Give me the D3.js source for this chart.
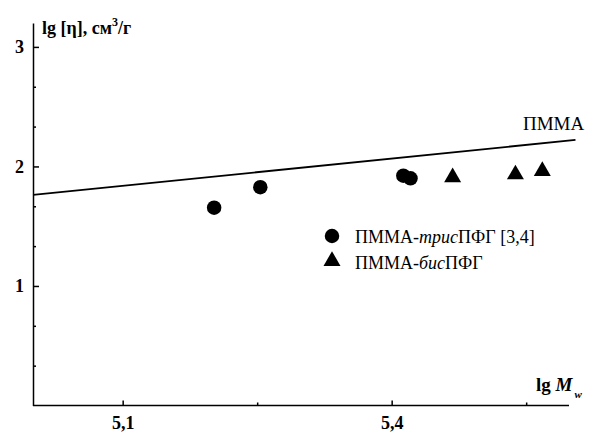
<!DOCTYPE html>
<html>
<head>
<meta charset="utf-8">
<script src="https://cdn.jsdelivr.net/npm/d3@7"></script>
<style>
  body { margin: 0; background: #fff; }
  svg, svg text { font-family: 'Liberation Serif', 'Tinos', 'Times New Roman', 'DejaVu Serif', serif; }
</style>
</head>
<body>
<div id="chart"></div>
<script>
// data
const trisX = [5.202, 5.2535, 5.413, 5.421];
const trisY = [1.655, 1.826, 1.923, 1.901];
const bisX = [5.468, 5.538, 5.568];
const bisY = [1.909, 1.933, 1.961];
const pmmaX = [5.0, 5.605];
const pmmaY = [1.762, 2.222];
const xMajor = [5.1, 5.4];
const xMinor = [5.25, 5.55];
const yMajor = [1, 2, 3];
const yMinor = [1/3, 2/3, 4/3, 5/3, 7/3, 8/3];
const legendNames = ["трис", "бис"];

const width = 595, height = 432;
const svg = d3.select("#chart").append("svg")
  .attr("width", width)
  .attr("height", height);

const x = d3.scaleLinear().domain([5.0, 5.6]).range([33, 571]);
const y = d3.scaleLinear().domain([0, 3.2]).range([405.5, 23]);

// axes
const xAxis = svg.append("g")
  .attr("transform", `translate(0, ${y(0)})`)
  .call(d3.axisBottom(x).tickValues(xMajor).tickSize(-5).tickPadding(11)
    .tickFormat(d => d3.format(".1f")(d).replace(".", ",")).tickSizeOuter(0));
svg.append("g")
  .attr("transform", `translate(0, ${y(0)})`)
  .call(d3.axisBottom(x).tickValues(xMinor).tickSize(-3).tickFormat("").tickSizeOuter(0))
  .select(".domain").remove();
xAxis.select(".domain").attr("d", `M${x(5.0)},0H569`);

const yAxis = svg.append("g")
  .attr("transform", `translate(${x(5.0)}, 0)`)
  .call(d3.axisLeft(y).tickValues(yMajor).tickSize(-6).tickPadding(9)
    .tickFormat(d3.format("d")).tickSizeOuter(0));
svg.append("g")
  .attr("transform", `translate(${x(5.0)}, 0)`)
  .call(d3.axisLeft(y).tickValues(yMinor).tickSize(-3).tickFormat("").tickSizeOuter(0))
  .select(".domain").remove();

svg.selectAll(".domain, .tick line").attr("stroke", "#000").attr("stroke-width", 1.5);
svg.selectAll(".tick text")
  .attr("font-size", 18).attr("font-weight", "bold")
  .attr("font-family", null);

// axis titles
const yTitle = svg.append("text")
  .attr("x", 42).attr("y", 34)
  .attr("font-size", 18).attr("font-weight", "bold");
yTitle.append("tspan").text("lg [η], см");
yTitle.append("tspan").attr("dy", -8).attr("font-size", 12).text("3");
yTitle.append("tspan").attr("dy", 8).text("/г");

const xTitle = svg.append("text")
  .attr("x", 536).attr("y", 391)
  .attr("font-size", 19).attr("font-weight", "bold");
xTitle.append("tspan").text("lg ");
xTitle.append("tspan").attr("font-style", "italic").text("M");
xTitle.append("tspan").attr("dx", 2).attr("dy", 7).attr("font-size", 11).attr("font-style", "italic").text("w");

// ПММА line
const line = d3.line().x(d => x(d[0])).y(d => y(d[1]));
svg.append("path")
  .datum(d3.zip(pmmaX, pmmaY))
  .attr("d", line)
  .attr("fill", "none")
  .attr("stroke", "#000")
  .attr("stroke-width", 1.8);
svg.append("text")
  .attr("x", 523).attr("y", 130)
  .attr("font-size", 19)
  .text("ПММА");

// points
const circle = d3.symbol().type(d3.symbolCircle).size(165);
const tri = d3.symbol().type(d3.symbolTriangle).size(125);

svg.selectAll(".tris")
  .data(d3.zip(trisX, trisY))
  .join("path")
    .attr("class", "tris")
    .attr("d", circle)
    .attr("transform", d => `translate(${x(d[0])}, ${y(d[1])})`)
    .attr("fill", "#000");

svg.selectAll(".bis")
  .data(d3.zip(bisX, bisY))
  .join("path")
    .attr("class", "bis")
    .attr("d", tri)
    .attr("transform", d => `translate(${x(d[0])}, ${y(d[1])})`)
    .attr("fill", "#000");

// legend
const legend = svg.append("g").attr("transform", "translate(332, 236)");
legend.append("path").attr("d", circle).attr("fill", "#000");
legend.append("path").attr("d", tri).attr("transform", "translate(0, 25)").attr("fill", "#000");

const l1 = legend.append("text").attr("x", 23).attr("y", 7).attr("font-size", 18);
l1.append("tspan").text("ПММА-");
l1.append("tspan").attr("font-style", "italic").text(legendNames[0]);
l1.append("tspan").text("ПФГ [3,4]");

const l2 = legend.append("text").attr("x", 23).attr("y", 33).attr("font-size", 18);
l2.append("tspan").text("ПММА-");
l2.append("tspan").attr("font-style", "italic").text(legendNames[1]);
l2.append("tspan").text("ПФГ");
</script>
</body>
</html>
